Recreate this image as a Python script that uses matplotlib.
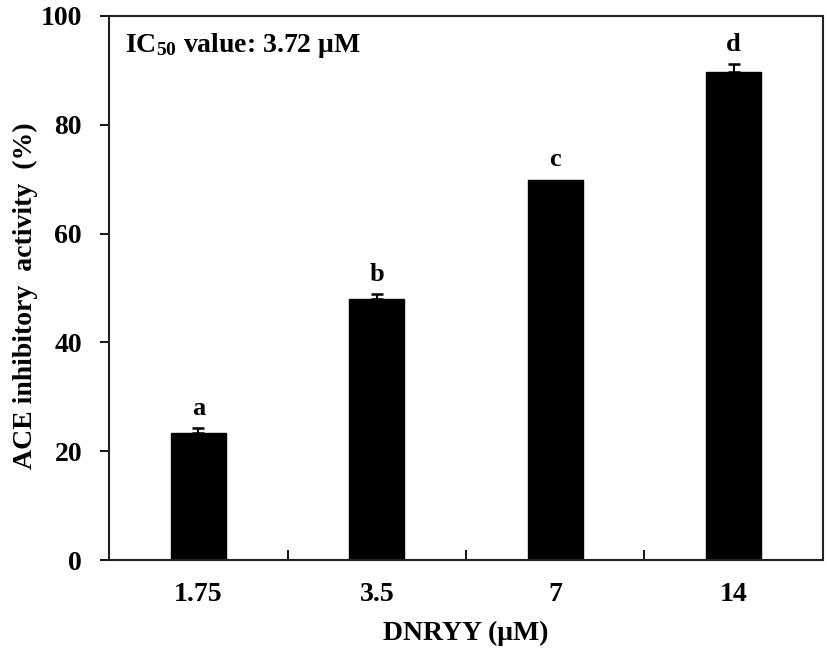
import numpy as np
import matplotlib
matplotlib.use('Agg')
import matplotlib.pyplot as plt

plt.rcParams['font.family'] = ['Liberation Serif', 'DejaVu Serif']
plt.rcParams['font.weight'] = 'bold'
plt.rcParams['mathtext.fontset'] = 'custom'
plt.rcParams['mathtext.rm'] = 'Liberation Serif:bold'
plt.rcParams['mathtext.it'] = 'Liberation Serif:bold'
plt.rcParams['mathtext.bf'] = 'Liberation Serif:bold'

# data
conc = ['1.75', '3.5', '7', '14']
activity = [23.4, 48.0, 69.9, 89.6]
err = [0.9, 0.9, 0.0, 1.6]
letters = ['a', 'b', 'c', 'd']

fig = plt.figure(figsize=(8.27, 6.59), dpi=100)
ax = fig.add_axes([0.132, 0.150, 0.863, 0.826])

x = np.arange(len(conc))
y = np.array(activity)
e = np.array(err)
ax.bar(x, y, width=0.31, color='black', edgecolor='black')
m = e > 0
ax.errorbar(x[m], y[m], yerr=[np.zeros(m.sum()), e[m]], fmt='none',
            ecolor='black', elinewidth=1.5, capsize=4.5, capthick=1.8)
for xi, yi, ei, l in zip(x, y, e, letters):
    ax.text(xi, yi + ei + 1.5, l, ha='center', va='bottom', fontsize=19, fontweight='bold')

ax.set_xlim(-0.5, 3.5)
ax.set_ylim(0, 100)
ax.set_yticks(np.arange(0, 101, 20))
ax.set_xticks(x)
ax.set_xticklabels(conc)
ax.set_xticks([0.5, 1.5, 2.5], minor=True)
ax.tick_params(axis='x', which='major', length=0, pad=16, labelsize=20)
ax.tick_params(axis='x', which='minor', direction='in', length=7.5, width=1.3)
ax.tick_params(axis='y', direction='out', length=6.5, width=1.3, labelsize=20, pad=13)
for s in ax.spines.values():
    s.set_linewidth(1.5)
    s.set_color('#222222')

ax.set_xlabel('DNRYY (μM)', fontsize=20, fontweight='bold', labelpad=10)
ax.set_ylabel('ACE inhibitory  activity  (%)', fontsize=20, fontweight='bold')
ax.yaxis.set_label_coords(-0.100, 0.485)
ax.text(0.022, 0.945, r'IC$_{\mathrm{50}}$ value: 3.72 μM', transform=ax.transAxes,
        ha='left', va='center', fontsize=20, fontweight='bold')

plt.savefig('out.png', dpi=100)
